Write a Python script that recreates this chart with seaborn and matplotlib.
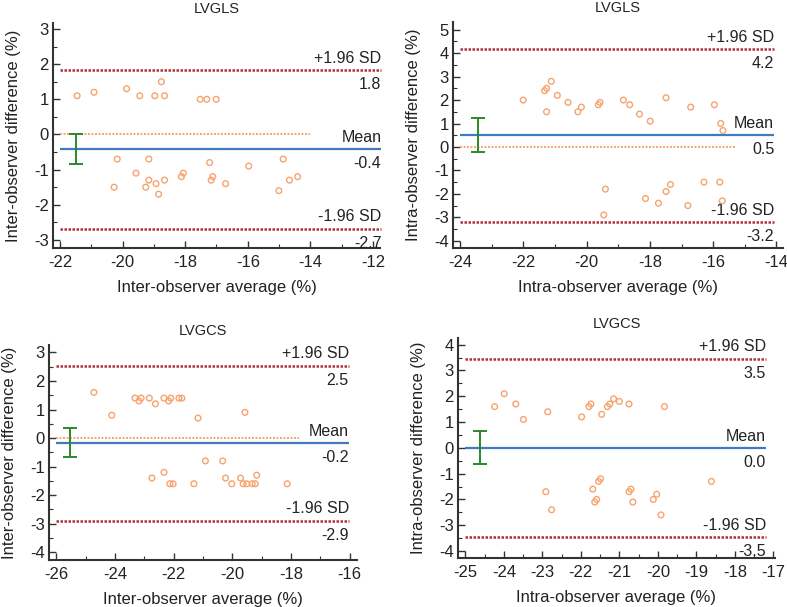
import matplotlib
matplotlib.use("Agg")
import matplotlib.pyplot as plt
import seaborn as sns
import pandas as pd
from matplotlib.ticker import MultipleLocator

# ---------------- data ----------------
titles = ["LVGLS", "LVGLS", "LVGCS", "LVGCS"]
xlabels = ["Inter-observer average (%)", "Intra-observer average (%)",
           "Inter-observer average (%)", "Intra-observer average (%)"]
ylabels = ["Inter-observer difference (%)", "Intra-observer difference (%)",
           "Inter-observer difference (%)", "Intra-observer difference (%)"]

p1_avg = [-21.45, -20.91, -19.87, -19.45, -18.97, -18.76, -18.66, -17.52, -17.31, -17.01,
          -20.27, -20.17, -19.57, -19.26, -19.16, -19.16, -18.93, -18.85, -18.66, -18.12,
          -18.06, -17.22, -17.17, -17.12, -16.71, -15.97, -15.01, -14.87, -14.67, -14.41]
p1_diff = [1.1, 1.2, 1.3, 1.1, 1.1, 1.5, 1.1, 1.0, 1.0, 1.0,
           -1.5, -0.7, -1.1, -1.5, -0.7, -1.3, -1.4, -1.7, -1.3, -1.2,
           -1.1, -0.8, -1.3, -1.2, -1.4, -0.9, -1.6, -0.7, -1.3, -1.2]

p2_avg = [-22.01, -21.33, -21.27, -21.12, -21.27, -20.93, -20.59, -20.28, -20.17, -19.63,
          -19.58, -18.84, -18.64, -18.33, -17.99, -17.49, -16.71, -15.96, -15.76, -15.69,
          -19.41, -19.46, -18.14, -17.73, -17.49, -17.35, -16.80, -16.29, -15.79, -15.71]
p2_diff = [2.0, 2.4, 2.5, 2.8, 1.5, 2.2, 1.9, 1.5, 1.7, 1.8,
           1.9, 2.0, 1.8, 1.4, 1.1, 2.1, 1.7, 1.8, 1.0, 0.7,
           -1.8, -2.9, -2.2, -2.4, -1.9, -1.6, -2.5, -1.5, -1.5, -2.3]

p3_avg = [-24.72, -24.11, -23.32, -23.18, -23.11, -22.83, -22.62, -22.33, -22.17, -22.10,
          -21.82, -21.72, -21.17, -19.57,
          -22.74, -22.33, -22.13, -22.02, -21.31, -20.92, -20.33, -20.23, -20.02, -19.72,
          -19.63, -19.51, -19.32, -19.22, -19.17, -18.13]
p3_diff = [1.6, 0.8, 1.4, 1.3, 1.4, 1.4, 1.2, 1.4, 1.3, 1.4,
           1.4, 1.4, 0.7, 0.9,
           -1.4, -1.2, -1.6, -1.6, -1.6, -0.8, -0.8, -1.4, -1.6, -1.4,
           -1.6, -1.6, -1.6, -1.6, -1.3, -1.6]

p4_avg = [-24.24, -23.99, -23.69, -23.49, -22.86, -21.98, -21.79, -21.74, -21.46, -21.31,
          -21.25, -21.15, -21.00, -20.75, -19.83,
          -22.91, -22.76, -21.69, -21.64, -21.59, -21.54, -21.49, -20.75, -20.70, -20.65,
          -20.12, -20.03, -19.92, -18.61]
p4_diff = [1.6, 2.1, 1.7, 1.1, 1.4, 1.2, 1.6, 1.7, 1.3, 1.6,
           1.7, 1.9, 1.8, 1.7, 1.6,
           -1.7, -2.4, -1.6, -2.1, -2.0, -1.3, -1.2, -1.7, -1.6, -2.1,
           -2.0, -1.8, -2.6, -1.3]

means = [-0.42, 0.51, -0.17, 0.0]
upper_loa = [1.84, 4.19, 2.54, 3.46]
lower_loa = [-2.68, -3.22, -2.89, -3.46]
ci_high = [0.02, 1.22, 0.35, 0.65]
ci_low = [-0.85, -0.21, -0.68, -0.64]
ci_x = [-21.49, -23.44, -25.52, -24.61]
line_start = [-22.0, -24.0, -26.0, -25.0]
zero_end = [-14.0, -15.32, -17.73, -17.2]
line_end = [-11.74, -14.07, -16.03, -17.2]

# ---------------- layout / style ----------------
W, H = 787, 607
axes_px = [(53, 23, 380, 248), (453, 22, 783, 248), (49, 345, 357, 560), (458, 338, 775, 558)]
xlims = [(-22.22, -11.78), (-24.23, -13.79), (-26.25, -15.75), (-25.19, -16.96)]
ylims = [(-3.23, 3.17), (-4.31, 5.33), (-4.27, 3.26), (-4.27, 4.26)]
xmaj = [2, 2, 2, 1]
xmin = [1, 1, 1, 0.5]
yticks = [range(-3, 4), range(-4, 6), range(-4, 4), range(-4, 5)]

sns.set_theme(style="ticks")
plt.rcParams["font.family"] = ["Liberation Sans", "DejaVu Sans"]
plt.rcParams["axes.unicode_minus"] = False

ORANGE = "#f6a46e"
RED = "#b0303c"
BLUE = "#3f7bbd"
GREEN = "#2a8a2a"
SPINE = "#333333"
TXT = "#222222"

fig = plt.figure(figsize=(W / 100, H / 100), dpi=100)

datasets = [(p1_avg, p1_diff), (p2_avg, p2_diff), (p3_avg, p3_diff), (p4_avg, p4_diff)]

for i in range(4):
    l, t, r, b = axes_px[i]
    ax = fig.add_axes([l / W, 1 - b / H, (r - l) / W, (b - t) / H])
    avg, diff = datasets[i]
    df = pd.DataFrame({"avg": avg, "diff": diff})

    # zero line
    ax.hlines(0, line_start[i], zero_end[i], colors=ORANGE, linestyles=(0, (1, 0.8)), lw=1.4, zorder=1)
    # limits of agreement
    ax.hlines([upper_loa[i], lower_loa[i]], line_start[i], line_end[i], colors=RED,
              linestyles=(0, (1, 0.6)), lw=1.8, zorder=2, clip_on=False)
    # mean
    ax.hlines(means[i], line_start[i], line_end[i], colors=BLUE, lw=1.6, zorder=3, clip_on=False)
    # CI of mean
    ax.errorbar([ci_x[i]], [(ci_high[i] + ci_low[i]) / 2],
                yerr=[[(ci_high[i] - ci_low[i]) / 2], [(ci_high[i] - ci_low[i]) / 2]],
                fmt="none", ecolor=GREEN, elinewidth=1.4, capsize=5, capthick=1.4, zorder=4)

    sns.scatterplot(data=df, x="avg", y="diff", ax=ax, marker="o", s=17,
                    facecolor="none", edgecolor=ORANGE, linewidth=1.0, zorder=5)

    fs = 11.5
    kw = dict(textcoords="offset points", ha="right", fontsize=fs, color=TXT, annotation_clip=False)
    ax.annotate("+1.96 SD", (line_end[i], upper_loa[i]), xytext=(0, 3), va="bottom", **kw)
    ax.annotate(f"{upper_loa[i]:.1f}", (line_end[i], upper_loa[i]), xytext=(0, -5), va="top", **kw)
    ax.annotate("Mean", (line_end[i], means[i]), xytext=(0, 3), va="bottom", **kw)
    ax.annotate(f"{means[i]:.1f}", (line_end[i], means[i]), xytext=(0, -5), va="top", **kw)
    ax.annotate("-1.96 SD", (line_end[i], lower_loa[i]), xytext=(0, 3), va="bottom", **kw)
    ax.annotate(f"{lower_loa[i]:.1f}", (line_end[i], lower_loa[i]), xytext=(0, -5), va="top", **kw)

    ax.set_xlim(*xlims[i])
    ax.set_ylim(*ylims[i])
    ax.xaxis.set_major_locator(MultipleLocator(xmaj[i]))
    ax.xaxis.set_minor_locator(MultipleLocator(xmin[i]))
    ax.set_yticks(list(yticks[i]))
    ax.yaxis.set_minor_locator(MultipleLocator(0.5))
    ax.tick_params(which="major", direction="in", length=5, width=1.0, color=SPINE,
                   labelsize=12, labelcolor=TXT, pad=5)
    ax.tick_params(axis="y", which="major", pad=3)
    ax.tick_params(which="minor", direction="in", length=3, width=0.8, color=SPINE)
    for s in ["top", "right"]:
        ax.spines[s].set_visible(False)
    for s in ["left", "bottom"]:
        ax.spines[s].set_color(SPINE)
        ax.spines[s].set_linewidth(1.5)
    ax.set_xlabel(xlabels[i], fontsize=12, color=TXT, labelpad=7)
    ax.set_ylabel(ylabels[i], fontsize=12, color=TXT, labelpad=9)
    ax.set_title(titles[i], fontsize=10.5, color=TXT, pad=7)

fig.savefig("out.png", dpi=100)
